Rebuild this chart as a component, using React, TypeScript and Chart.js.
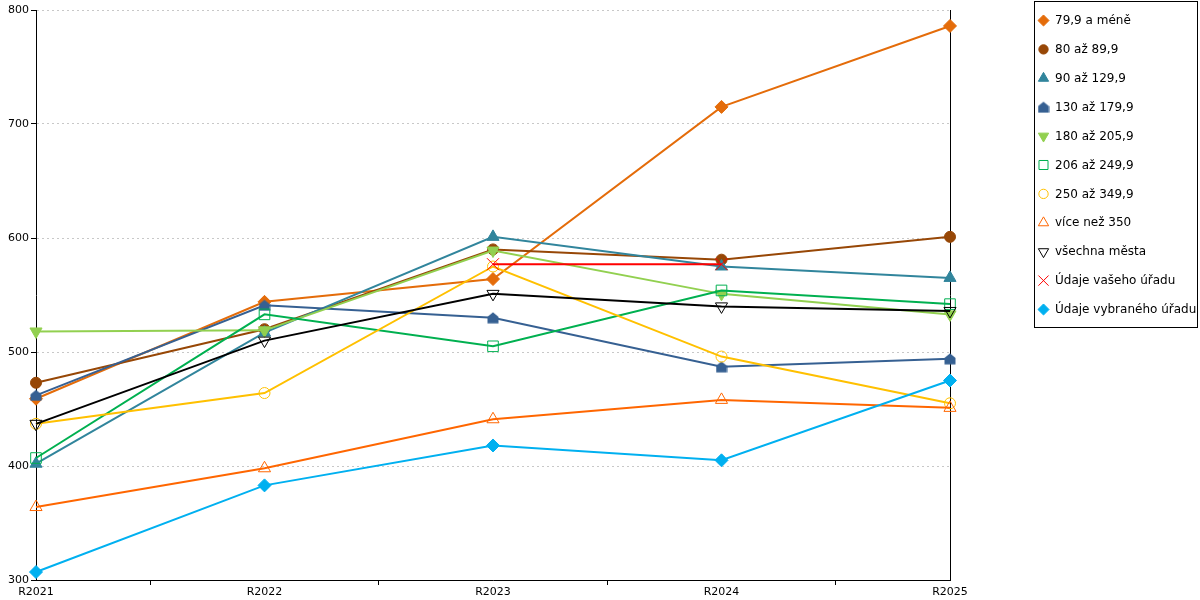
import { useEffect, useRef } from "react";
import { Chart, registerables } from "chart.js";
import { drawPoint } from "chart.js/helpers";

Chart.register(...registerables);

const years = ["R2021", "R2022", "R2023", "R2024", "R2025"];

const do79 = [459, 544, 564, 715, 786];
const od80 = [473, 520, 590, 581, 601];
const od90 = [402, 517, 601, 575, 565];
const od130 = [462, 541, 530, 487, 494];
const od180 = [518, 519, 589, 551, 533];
const od206 = [407, 533, 505, 554, 542];
const od250 = [437, 464, 575, 496, 455];
const nad350 = [364, 398, 441, 458, 451];
const vsechnaMesta = [437, 510, 551, 540, 536];
const vasUrad = [null, null, 577, 577, null];
const vybranyUrad = [307, 383, 418, 405, 475];

const yTicks = [300, 400, 500, 600, 700, 800];

// little "house" marker, the library has no pentagon
const makeHouse = (color: string) => {
  const c = document.createElement("canvas");
  c.width = 12;
  c.height = 12;
  const g = c.getContext("2d")!;
  g.fillStyle = color;
  g.beginPath();
  g.moveTo(6, 0.5);
  g.lineTo(11.5, 5);
  g.lineTo(11.5, 11.5);
  g.lineTo(0.5, 11.5);
  g.lineTo(0.5, 5);
  g.closePath();
  g.fill();
  return c;
};

const sideLegend = {
  id: "sideLegend",
  afterDraw(chart: any) {
    const ctx = chart.ctx;
    ctx.save();
    ctx.strokeStyle = "#000";
    ctx.lineWidth = 1;
    ctx.strokeRect(1034.5, 1.5, 163, 326);
    ctx.font = "12px 'DejaVu Sans', Verdana, sans-serif";
    ctx.textBaseline = "middle";
    chart.data.datasets.forEach((ds: any, i: number) => {
      const y = 20.5 + i * 28.9;
      ctx.fillStyle = ds.pointBackgroundColor;
      ctx.strokeStyle = ds.pointBorderColor;
      ctx.lineWidth = ds.pointBorderWidth;
      drawPoint(
        ctx,
        {
          pointStyle: ds.pointStyle,
          rotation: ds.pointRotation || 0,
          radius: ds.pointRadius * 0.85,
          borderWidth: ds.pointBorderWidth,
        },
        1043.5,
        y
      );
      ctx.fillStyle = "#000";
      ctx.fillText(ds.label, 1055, y + 0.5);
    });
    ctx.restore();
  },
};

export default function App() {
  const canvasRef = useRef<HTMLCanvasElement | null>(null);
  const chartRef = useRef<Chart | null>(null);

  useEffect(() => {
    if (!canvasRef.current) return;
    chartRef.current?.destroy();

    const series = [
      { label: "79,9 a méně", data: do79, color: "#E46C0A", style: "rectRot", r: 6.5, filled: true },
      { label: "80 až 89,9", data: od80, color: "#974706", style: "circle", r: 5.5, filled: true },
      { label: "90 až 129,9", data: od90, color: "#31859C", style: "triangle", r: 7, filled: true },
      { label: "130 až 179,9", data: od130, color: "#366092", style: makeHouse("#366092"), r: 6, filled: true },
      { label: "180 až 205,9", data: od180, color: "#92D050", style: "triangle", r: 7, filled: true, rot: 180 },
      { label: "206 až 249,9", data: od206, color: "#00B050", style: "rect", r: 7.5, filled: false },
      { label: "250 až 349,9", data: od250, color: "#FFC000", style: "circle", r: 5.5, filled: false },
      { label: "více než 350", data: nad350, color: "#FF6600", style: "triangle", r: 7, filled: false },
      { label: "všechna města", data: vsechnaMesta, color: "#000000", style: "triangle", r: 7, filled: false, rot: 180 },
      { label: "Údaje vašeho úřadu", data: vasUrad, color: "#FF0000", style: "crossRot", r: 8.5, filled: false },
      { label: "Údaje vybraného úřadu", data: vybranyUrad, color: "#00B0F0", style: "rectRot", r: 6.5, filled: true },
    ];

    chartRef.current = new Chart(canvasRef.current, {
      type: "line",
      data: {
        labels: years,
        datasets: series.map((s, i) => ({
          label: s.label,
          data: s.data,
          borderColor: s.color,
          borderWidth: 2,
          backgroundColor: s.color,
          pointStyle: s.style as any,
          pointRotation: s.rot || 0,
          pointRadius: s.r,
          pointHoverRadius: s.r,
          pointBorderWidth: 1,
          pointBorderColor: s.color,
          pointBackgroundColor: s.filled ? s.color : "rgba(255,255,255,0)",
          tension: 0,
          spanGaps: false,
          order: -i,
        })),
      },
      options: {
        animation: false,
        responsive: false,
        layout: { padding: { top: 10, right: 250, left: 0, bottom: 0 } },
        plugins: {
          legend: { display: false },
          tooltip: { enabled: false },
        },
        scales: {
          x: {
            offset: false,
            afterFit: (s: any) => {
              s.height = 20;
            },
            grid: {
              offset: true,
              drawOnChartArea: false,
              drawTicks: true,
              tickLength: 5,
              color: "#000",
            },
            border: { color: "#000", width: 1 },
            ticks: {
              color: "#000",
              padding: 1,
              maxRotation: 0,
              font: { family: "'DejaVu Sans', Verdana, sans-serif", size: 11 },
            },
          },
          y: {
            min: 300,
            max: 800,
            afterFit: (s: any) => {
              s.width = 36;
            },
            afterBuildTicks: (s: any) => {
              s.ticks = yTicks.map((v) => ({ value: v }));
            },
            grid: {
              color: "#C8C8C8",
              tickColor: "#000",
              tickLength: 5,
              tickBorderDash: [],
            },
            border: { color: "#000", width: 1, dash: [2, 3] },
            ticks: {
              color: "#000",
              padding: 2,
              font: { family: "'DejaVu Sans', Verdana, sans-serif", size: 11 },
            },
          },
          y2: {
            position: "right",
            afterFit: (s: any) => {
              s.width = 0;
            },
            grid: { drawOnChartArea: false, drawTicks: false },
            border: { color: "#000", width: 1 },
            ticks: { display: false },
          },
        },
      },
      plugins: [sideLegend],
    });

    return () => {
      chartRef.current?.destroy();
      chartRef.current = null;
    };
  }, []);

  return (
    <div style={{ position: "fixed", left: 0, top: 0, width: 1200, height: 600, background: "#fff" }}>
      <canvas ref={canvasRef} width={1200} height={600} style={{ width: 1200, height: 600 }} />
    </div>
  );
}
